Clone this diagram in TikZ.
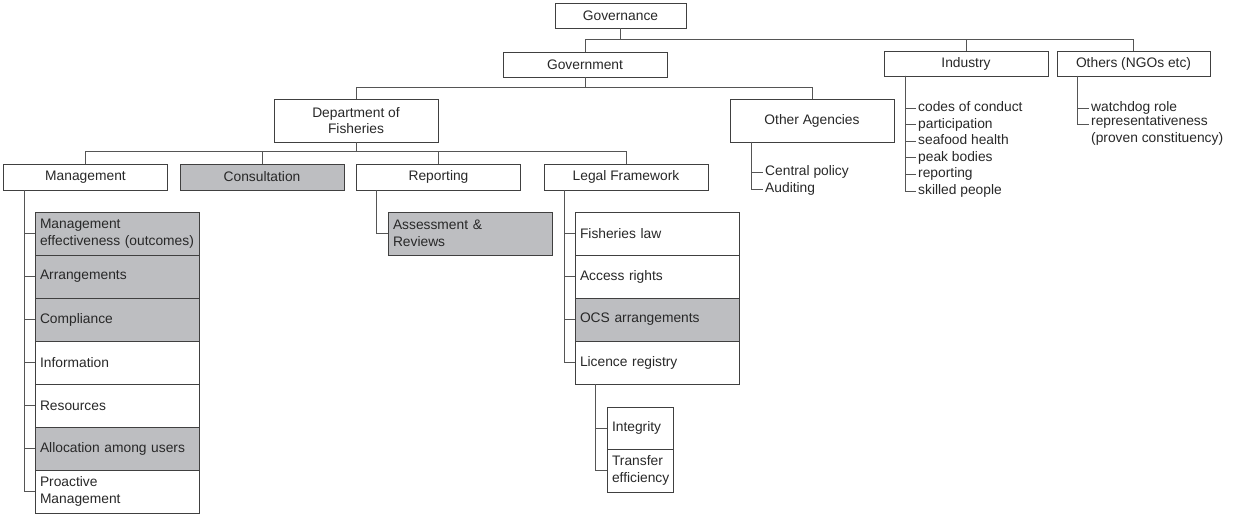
\documentclass[tikz,border=0pt]{standalone}
\usepackage{fontspec}
\setmainfont{Liberation Sans}
\definecolor{boxgray}{RGB}{189, 190, 193}
\definecolor{linegray}{RGB}{85, 85, 85}
\definecolor{inkgray}{RGB}{40, 40, 40}
\usetikzlibrary{positioning}

\begin{document}
\begin{tikzpicture}[
  x=1pt, y=-1pt,
  every node/.style={font=\fontsize{13.8}{16.6}\selectfont, text=inkgray},
  hbox/.style={draw=black!75, line width=0.9pt, fill=white, minimum width=164pt, minimum height=25pt, inner sep=0pt, align=center},
  cbox/.style={draw=black!75, line width=0.9pt, fill=white, minimum width=164pt, minimum height=43pt, inner xsep=5pt, inner ysep=0pt, text width=154pt, align=left},
  sbox/.style={cbox, minimum width=66pt, text width=56pt},
  shaded/.style={fill=boxgray},
  item/.style={anchor=west, inner xsep=2pt, inner ysep=0pt, text height=10pt, text depth=3pt, align=left},
  link/.style={draw=linegray, line width=0.8pt}
]
  \useasboundingbox (0,0) rectangle (1234,516);

  % top levels
  \node[hbox, minimum width=131pt] (gvn) at (620.5,15.5) {Governance};
  \node[hbox] (gvt) at (585,64.5) {Government};
  \node[hbox] (ind) at (966,64) {Industry};
  \node[hbox, minimum width=153pt] (oth) at (1133.5,64) {Others (NGOs etc)};
  \draw[link] (gvn.south) -- ++(0,12);
  \draw[link] (gvt.north) -- ++(0,-12) -| (oth.north);
  \draw[link] (ind.north) -- ++(0,-12);

  \node[hbox, minimum height=43pt] (dof) at (356,120.5) {Department of\\Fisheries};
  \node[hbox, minimum height=43pt] (oag) at (812,120.5) {Other Agencies};
  \draw[link] (gvt.south) -- ++(0,11);
  \draw[link] (dof.north) -- ++(0,-11) -| (oag.north);

  \node[hbox, minimum height=26pt] (mgt) at (85.5,177) {Management};
  \node[hbox, shaded, minimum height=26pt] (con) at (262,177) {Consultation};
  \node[hbox, minimum height=26pt] (rep) at (438.5,177) {Reporting};
  \node[hbox, minimum height=26pt] (leg) at (626,177) {Legal Framework};
  \draw[link] (dof.south) -- ++(0,10);
  \draw[link] (mgt.north) -- ++(0,-12) -| (leg.north);
  \draw[link] (con.north) -- ++(0,-12);
  \draw[link] (rep.north) -- ++(0,-12);

  % Management column
  \coordinate (mrail) at (24,190);
  \node[cbox, shaded] (m1) at (117,233.5) {Management\\effectiveness (outcomes)};
  \node[cbox, shaded] (m2) at (117,276.5) {Arrangements};
  \node[cbox, shaded] (m3) at (117,319.5) {Compliance};
  \node[cbox] (m4) at (117,362.5) {Information};
  \node[cbox] (m5) at (117,405.5) {Resources};
  \node[cbox, shaded] (m6) at (117,448.5) {Allocation among users};
  \node[cbox] (m7) at (117,491.5) {Proactive\\Management};
  \foreach \i in {1,...,7} \draw[link] (mrail) |- (m\i.west);

  % Reporting
  \coordinate (rrail) at (376,190);
  \node[cbox, shaded] (asr) at (470,233.5) {Assessment \&\\Reviews};
  \draw[link] (rrail) |- (asr.west);

  % Legal Framework column
  \coordinate (lrail) at (564,190);
  \node[cbox] (l1) at (657,233.5) {Fisheries law};
  \node[cbox] (l2) at (657,276.5) {Access rights};
  \node[cbox, shaded] (l3) at (657,319.5) {OCS arrangements};
  \node[cbox] (l4) at (657,362.5) {Licence registry};
  \foreach \i in {1,...,4} \draw[link] (lrail) |- (l\i.west);

  \coordinate (crail) at (595,384);
  \node[sbox, minimum height=42pt] (int) at (640,428) {Integrity};
  \node[sbox] (tsf) at (640,470.5) {Transfer\\efficiency};
  \draw[link] (crail) |- (int.west);
  \draw[link] (crail) |- (tsf.west);

  % Other Agencies list
  \coordinate (arail) at (751,142);
  \node[item] (a1) at (763,172) {Central policy};
  \node[item] (a2) at (763,189) {Auditing};
  \foreach \i in {1,2} \draw[link] (arail) |- (a\i.west);

  % Industry list
  \coordinate (irail) at (905,76);
  \node[item] (i1) at (916,108) {codes of conduct};
  \node[item] (i2) at (916,124.6) {participation};
  \node[item] (i3) at (916,141.2) {seafood health};
  \node[item] (i4) at (916,157.8) {peak bodies};
  \node[item] (i5) at (916,174.4) {reporting};
  \node[item] (i6) at (916,191) {skilled people};
  \foreach \i in {1,...,6} \draw[link] (irail) |- (i\i.west);

  % Others list
  \coordinate (orail) at (1077,76);
  \node[item] (o1) at (1089,108) {watchdog role};
  \node[item, anchor=north west, text height=, text depth=] (o2) at (1089,115.5) {representativeness\\(proven constituency)};
  \draw[link] (orail) |- (o1.west);
  \draw[link] (orail) |- ([yshift=-8.6pt]o2.north west);
\end{tikzpicture}
\end{document}
